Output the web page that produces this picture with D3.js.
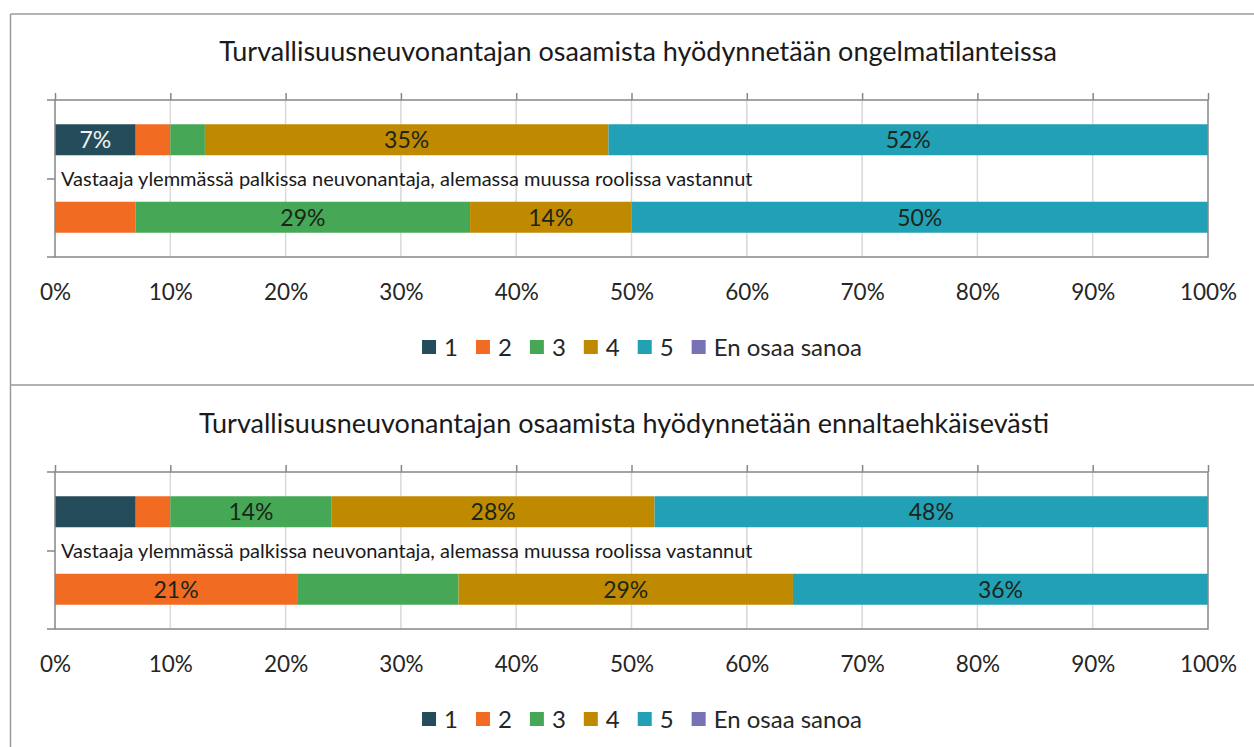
<!DOCTYPE html>
<html>
<head>
<meta charset="utf-8">
<script src="https://cdn.jsdelivr.net/npm/d3@7"></script>
<style>
  body { margin: 0; background: #fff; }
  svg { display: block; font-family: Lato, "Open Sans", sans-serif; }
</style>
</head>
<body>
<svg width="1254" height="747"></svg>
<script>
// Chart data
const titles = [
  "Turvallisuusneuvonantajan osaamista hyödynnetään ongelmatilanteissa",
  "Turvallisuusneuvonantajan osaamista hyödynnetään ennaltaehkäisevästi"
];
const categoryLabel = "Vastaaja ylemmässä palkissa neuvonantaja, alemassa muussa roolissa vastannut";
const seriesNames = ["1", "2", "3", "4", "5", "En osaa sanoa"];
const seriesColors = ["#254c5a", "#f26b23", "#46a856", "#c08a00", "#22a0b6", "#7771b5"];
const rows = ["neuvonantaja", "muu rooli"];

// values per chart, per row (upper bar = neuvonantaja), in %
const chart1Values = [
  [7, 3, 3, 35, 52, 0],
  [0, 7, 29, 14, 50, 0]
];
const chart2Values = [
  [7, 3, 14, 28, 48, 0],
  [0, 21, 14, 29, 36, 0]
];
// which segment labels appear in the original
const chart1Shown = [
  [true, false, false, true, true, false],
  [false, false, true, true, true, false]
];
const chart2Shown = [
  [false, false, true, true, true, false],
  [false, true, false, true, true, false]
];
const tickValues = [0, 0.1, 0.2, 0.3, 0.4, 0.5, 0.6, 0.7, 0.8, 0.9, 1];

const svg = d3.select("svg");
const width = 1254, height = 747;

// outer frame of the two stacked charts
const frame = "#9a9a9a";
svg.append("line").attr("x1", 10.5).attr("x2", width).attr("y1", 14).attr("y2", 14)
  .attr("stroke", frame).attr("stroke-width", 1.5);
svg.append("line").attr("x1", 10.5).attr("x2", 10.5).attr("y1", 14).attr("y2", height)
  .attr("stroke", frame).attr("stroke-width", 1.5);
svg.append("line").attr("x1", 10.5).attr("x2", width).attr("y1", 385).attr("y2", 385)
  .attr("stroke", frame).attr("stroke-width", 1.5);

const x = d3.scaleLinear().domain([0, 1]).range([55, 1208]);
const plotTop = 100, plotBottom = 257;
const y = d3.scaleBand().domain(rows).range([plotTop, plotBottom])
  .paddingInner(0.6).paddingOuter(0.313);

function drawChart(offsetY, title, titleX, values, shown) {
  const g = svg.append("g").attr("transform", `translate(0,${offsetY})`);

  g.append("text")
    .attr("x", titleX).attr("y", 61)
    .attr("text-anchor", "middle")
    .attr("font-size", 27)
    .attr("fill", "#1a1a1a")
    .text(title);

  // gridlines
  g.append("g").selectAll("line")
    .data(tickValues.slice(1, -1))
    .join("line")
    .attr("x1", d => x(d)).attr("x2", d => x(d))
    .attr("y1", plotTop).attr("y2", plotBottom)
    .attr("stroke", "#d9d9d9").attr("stroke-width", 1.5);

  // stacked bars
  const stackData = rows.map((r, i) => {
    const o = { row: r };
    seriesNames.forEach((s, j) => { o[s] = values[i][j] / 100; });
    return o;
  });
  const stack = d3.stack().keys(seriesNames)(stackData);

  stack.forEach((layer, j) => {
    g.append("g").attr("fill", seriesColors[j])
      .selectAll("rect")
      .data(layer)
      .join("rect")
      .attr("x", d => x(d[0]))
      .attr("width", d => x(d[1]) - x(d[0]))
      .attr("y", d => y(d.data.row))
      .attr("height", y.bandwidth());

    g.append("g").selectAll("text")
      .data(layer.filter((d, i) => shown[i][j]))
      .join("text")
      .attr("x", d => (x(d[0]) + x(d[1])) / 2)
      .attr("y", d => y(d.data.row) + y.bandwidth() / 2)
      .attr("dy", "0.36em")
      .attr("text-anchor", "middle")
      .attr("font-size", 23)
      .attr("fill", j === 0 ? "#f2f2f2" : "#1a261a")
      .text(d => Math.round((d[1] - d[0]) * 100) + "%");
  });

  // plot frame
  const axisColor = "#878787";
  g.append("rect")
    .attr("x", x(0)).attr("y", plotTop)
    .attr("width", x(1) - x(0)).attr("height", plotBottom - plotTop)
    .attr("fill", "none").attr("stroke", axisColor).attr("stroke-width", 1.5);

  // top ticks
  const topAxis = g.append("g")
    .attr("transform", `translate(0,${plotTop})`)
    .call(d3.axisTop(x).tickValues(tickValues).tickSize(7).tickFormat(""));
  topAxis.select(".domain").remove();
  topAxis.selectAll("line").attr("stroke", axisColor).attr("stroke-width", 1.5);

  // bottom tick labels
  const bottomAxis = g.append("g")
    .attr("transform", `translate(0,${plotBottom})`)
    .call(d3.axisBottom(x).tickValues(tickValues).tickSize(0).tickFormat(d3.format(".0%")));
  bottomAxis.select(".domain").remove();
  bottomAxis.selectAll("text")
    .attr("y", 43).attr("dy", 0)
    .attr("font-family", "Lato, sans-serif")
    .attr("font-size", 22.5)
    .attr("fill", "#262626");

  // category axis ticks (between categories)
  const catTicks = [plotTop, (plotTop + plotBottom) / 2 + 0.5, plotBottom];
  g.append("g").selectAll("line")
    .data(catTicks)
    .join("line")
    .attr("x1", 47).attr("x2", x(0))
    .attr("y1", d => d).attr("y2", d => d)
    .attr("stroke", axisColor).attr("stroke-width", 1.5);

  g.append("text")
    .attr("x", 61).attr("y", catTicks[1])
    .attr("dy", "0.36em")
    .attr("font-size", 20)
    .attr("fill", "#1a1a1a")
    .text(categoryLabel);

  // legend
  const legend = g.append("g");
  let lx = 0;
  const items = [];
  seriesNames.forEach((s, j) => {
    const item = legend.append("g");
    item.append("rect").attr("width", 14).attr("height", 14).attr("fill", seriesColors[j]);
    const t = item.append("text").attr("x", 22).attr("y", 7).attr("dy", "0.36em")
      .attr("font-size", 24).attr("fill", "#262626").text(s);
    items.push({ item, w: 22 + t.node().getComputedTextLength() });
  });
  items.forEach(({ item, w }) => {
    item.attr("transform", `translate(${lx},0)`);
    lx += w + 18;
  });
  const total = lx - 18;
  legend.attr("transform", `translate(${642 - total / 2},340)`);
}

drawChart(0, titles[0], 638, chart1Values, chart1Shown);
drawChart(372, titles[1], 624, chart2Values, chart2Shown);
</script>
</body>
</html>
